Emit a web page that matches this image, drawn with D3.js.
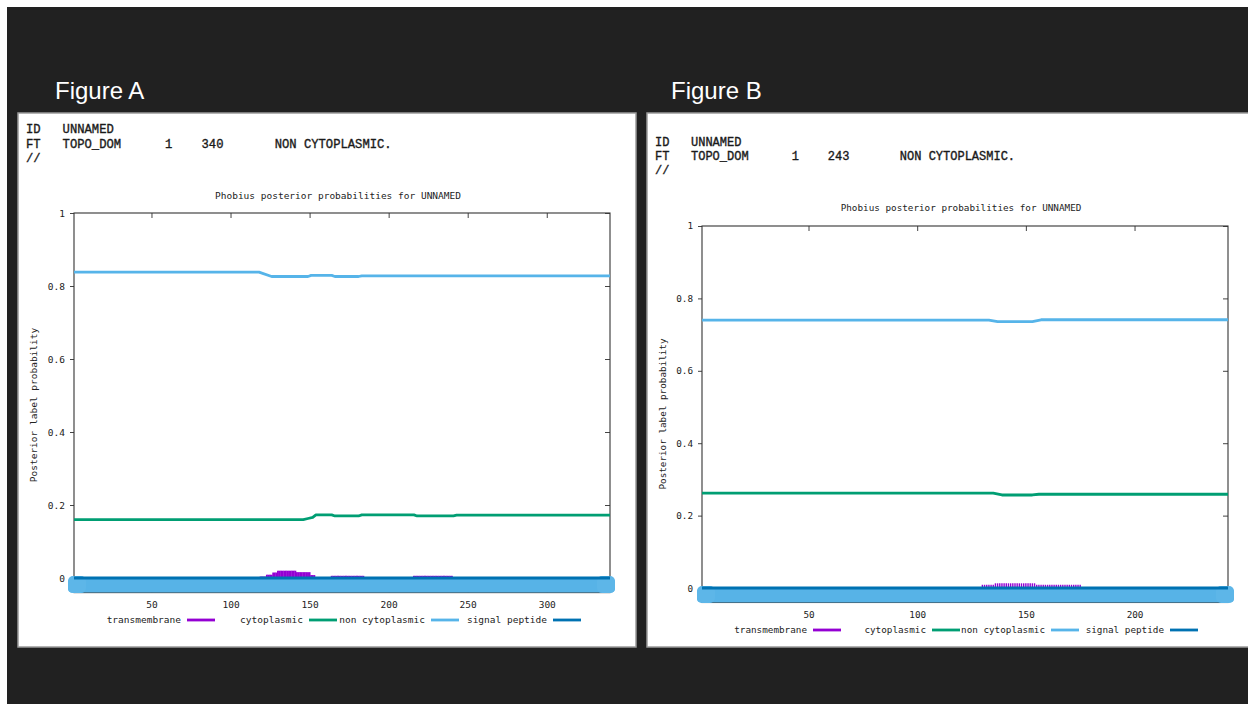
<!DOCTYPE html>
<html>
<head>
<meta charset="utf-8">
<script src="https://cdn.jsdelivr.net/npm/d3@7"></script>
<style>
  html, body { margin: 0; padding: 0; background: #ffffff; }
  svg { display: block; }
  .mono { font-family: "DejaVu Sans Mono", monospace; fill: #222; }
  .hdr { font-family: "Liberation Mono", "Courier New", monospace; fill: #1a1a1a; stroke: #1a1a1a; stroke-width: 0.35; white-space: pre; }
</style>
</head>
<body>
<svg id="chart" width="1248" height="704"></svg>
<script>
// ---------- data ----------
const figureNames = ["Figure A", "Figure B"];
const seqLengths = [340, 243];
const topoLabel = "NON CYTOPLASMIC.";
const plotTitle = "Phobius posterior probabilities for UNNAMED";
const yAxisTitle = "Posterior label probability";

const yTicks = [0, 0.2, 0.4, 0.6, 0.8, 1];
const yTickLabels = ["0", "0.2", "0.4", "0.6", "0.8", "1"];
const xTicksA = [50, 100, 150, 200, 250, 300];
const xTicksB = [50, 100, 150, 200];

const seriesNames = ["transmembrane", "cytoplasmic", "non cytoplasmic", "signal peptide"];
const seriesColors = ["#9400d3", "#009e73", "#56b4e9", "#0072b2"];

// Figure A (340 residues): breakpoints (residue) and posterior values
const nonCytoPosA = [1, 118, 126, 149, 151, 164, 166, 181, 183, 340];
const nonCytoValA = [0.838, 0.838, 0.826, 0.826, 0.829, 0.829, 0.826, 0.826, 0.828, 0.828];
const cytoPosA = [1, 146, 149, 152, 154, 164, 166, 181, 183, 216, 218, 241, 243, 340];
const cytoValA = [0.160, 0.160, 0.163, 0.166, 0.173, 0.173, 0.170, 0.170, 0.173, 0.173, 0.170, 0.170, 0.172, 0.172];
const signalPosA = [1, 340];
const signalValA = [0, 0];
// transmembrane runs: start residue, end residue, probability
const tmStartA = [119, 123, 127, 130, 142, 151, 164, 216];
const tmEndA   = [122, 126, 129, 141, 150, 153, 184, 240];
const tmValA   = [0.004, 0.009, 0.015, 0.020, 0.016, 0.008, 0.006, 0.006];

// Figure B (243 residues)
const nonCytoPosB = [1, 133, 137, 153, 157, 243];
const nonCytoValB = [0.740, 0.740, 0.736, 0.736, 0.741, 0.741];
const cytoPosB = [1, 135, 139, 153, 156, 243];
const cytoValB = [0.262, 0.262, 0.257, 0.257, 0.259, 0.259];
const signalPosB = [1, 243];
const signalValB = [0, 0];
const tmStartB = [130, 136, 155];
const tmEndB   = [135, 154, 175];
const tmValB   = [0.009, 0.013, 0.009];

// ---------- layout ----------
const svg = d3.select("#chart");
svg.append("rect").attr("x", 7).attr("y", 7).attr("width", 1241).attr("height", 697).attr("fill", "#212121");

const panels = [
  {
    name: figureNames[0], len: seqLengths[0], xTicks: xTicksA,
    nonCyto: d3.zip(nonCytoPosA, nonCytoValA), cyto: d3.zip(cytoPosA, cytoValA),
    signal: d3.zip(signalPosA, signalValA), tm: d3.zip(tmStartA, tmEndA, tmValA),
    box: { x: 18, y: 113, w: 618, h: 534 },
    plot: { l: 74, r: 610, t: 213, b: 592.6 },
    figX: 55, hdrX: 26, hdrY: [133, 148, 161.5], hdrSize: 12.2,
    titleX: 338, titleY: 199, fs: 9.5, yTitleX: 37, yTitleY: 405,
    xLabY: 607.5, legY: 620, legEnds: [181, 303, 425, 547], band: [68, 615], tmW: 1.9
  },
  {
    name: figureNames[1], len: seqLengths[1], xTicks: xTicksB,
    nonCyto: d3.zip(nonCytoPosB, nonCytoValB), cyto: d3.zip(cytoPosB, cytoValB),
    signal: d3.zip(signalPosB, signalValB), tm: d3.zip(tmStartB, tmEndB, tmValB),
    box: { x: 647, y: 113, w: 610, h: 534 },
    plot: { l: 702, r: 1228, t: 226, b: 602.5 },
    figX: 671, hdrX: 655, hdrY: [146, 160, 173.5], hdrSize: 12,
    titleX: 961, titleY: 211, fs: 9.3, yTitleX: 666, yTitleY: 414,
    xLabY: 617.5, legY: 630, legEnds: [807, 926, 1045, 1164], band: [697, 1234], tmW: 1.4
  }
];

panels.forEach(P => {
  const g = svg.append("g");

  g.append("text").text(P.name)
    .attr("x", P.figX).attr("y", 99)
    .attr("font-family", "Liberation Sans, Arial, sans-serif")
    .attr("font-size", 24).attr("fill", "#ffffff");

  g.append("rect").attr("x", P.box.x).attr("y", P.box.y)
    .attr("width", P.box.w).attr("height", P.box.h)
    .attr("fill", "#ffffff").attr("stroke", "#9a9a9a").attr("stroke-width", 1.5);

  // flat-file header
  const header = [
    "ID   UNNAMED",
    "FT   TOPO_DOM      1    " + String(P.len).padStart(3, " ") + "       " + topoLabel,
    "//"
  ];
  header.forEach((line, i) => {
    g.append("text").attr("class", "hdr").text(line)
      .attr("x", P.hdrX).attr("y", P.hdrY[i]).attr("font-size", P.hdrSize)
      .attr("xml:space", "preserve");
  });

  const x = d3.scaleLinear().domain([1, P.len]).range([P.plot.l, P.plot.r]);
  const y = d3.scaleLinear().domain([-0.04, 1]).range([P.plot.b, P.plot.t]);

  g.append("text").attr("class", "mono").text(plotTitle)
    .attr("x", P.titleX).attr("y", P.titleY).attr("text-anchor", "middle")
    .attr("font-size", P.fs);

  g.append("text").attr("class", "mono").text(yAxisTitle)
    .attr("transform", `translate(${P.yTitleX},${P.yTitleY}) rotate(-90)`)
    .attr("text-anchor", "middle").attr("font-size", P.fs);

  // axes with gnuplot-style inward ticks, mirrored
  const tickLen = 5;
  const axB = d3.axisBottom(x).tickValues(P.xTicks).tickSize(-tickLen).tickPadding(9).tickFormat(d3.format("d"));
  const axT = d3.axisTop(x).tickValues(P.xTicks).tickSize(-tickLen).tickFormat("");
  const axL = d3.axisLeft(y).tickValues(yTicks).tickSize(4).tickPadding(5).tickFormat((d, i) => yTickLabels[i]);
  const axR = d3.axisRight(y).tickValues(yTicks).tickSize(-tickLen).tickFormat("");

  const styleAxis = sel => {
    sel.select(".domain").remove();
    sel.selectAll("line").attr("stroke", "#444").attr("stroke-width", 1);
    sel.selectAll("text").attr("font-family", "DejaVu Sans Mono, monospace")
      .attr("font-size", P.fs).attr("fill", "#222");
  };
  g.append("g").attr("transform", `translate(0,${P.plot.b})`).call(axB).call(styleAxis);
  g.append("g").attr("transform", `translate(0,${P.plot.t})`).call(axT).call(styleAxis);
  g.append("g").attr("transform", `translate(${P.plot.l},0)`).call(axL).call(styleAxis);
  g.append("g").attr("transform", `translate(${P.plot.r},0)`).call(axR).call(styleAxis);

  g.append("rect").attr("x", P.plot.l).attr("y", P.plot.t)
    .attr("width", P.plot.r - P.plot.l).attr("height", P.plot.b - P.plot.t)
    .attr("fill", "none").attr("stroke", "#333").attr("stroke-width", 1.1);

  // highlighted baseline band
  const y0 = y(0);
  g.append("rect").attr("x", P.band[0]).attr("y", y0 + 0.5)
    .attr("width", P.band[1] - P.band[0]).attr("height", P.plot.b - y0 - 0.5)
    .attr("rx", 4).attr("fill", "#57b3e7");
  [P.band[0], P.band[1] - 18].forEach(bx => {
    g.append("rect").attr("x", bx).attr("y", y0 - 2)
      .attr("width", 18).attr("height", P.plot.b - y0 + 2.5)
      .attr("rx", 5).attr("fill", "#5db6e8");
  });

  // transmembrane impulses per residue
  const impulses = [];
  P.tm.forEach(([s, e, v]) => d3.range(s, e + 1).forEach(r => impulses.push([r, v])));
  g.append("g").selectAll("line").data(impulses).join("line")
    .attr("x1", d => x(d[0])).attr("x2", d => x(d[0]))
    .attr("y1", y(0)).attr("y2", d => y(d[1]))
    .attr("stroke", seriesColors[0]).attr("stroke-width", P.tmW);

  const line = d3.line().x(d => x(d[0])).y(d => y(d[1]));
  [[P.cyto, 1], [P.nonCyto, 2], [P.signal, 3]].forEach(([data, k]) => {
    g.append("path").datum(data).attr("d", line)
      .attr("fill", "none").attr("stroke", seriesColors[k])
      .attr("stroke-width", 2.8).attr("stroke-linejoin", "round");
  });

  // legend: right-aligned label followed by line sample
  seriesNames.forEach((name, i) => {
    const ex = P.legEnds[i];
    g.append("text").attr("class", "mono").text(name)
      .attr("x", ex).attr("y", P.legY + 3).attr("text-anchor", "end")
      .attr("font-size", P.fs);
    g.append("line").attr("x1", ex + 6).attr("x2", ex + 34)
      .attr("y1", P.legY).attr("y2", P.legY)
      .attr("stroke", seriesColors[i]).attr("stroke-width", 2.8);
  });
});

// thin light strips along the top and left edges of the canvas
svg.append("rect").attr("x", 0).attr("y", 0).attr("width", 1248).attr("height", 7).attr("fill", "#ffffff");
svg.append("rect").attr("x", 0).attr("y", 0).attr("width", 7).attr("height", 704).attr("fill", "#ffffff");
</script>
</body>
</html>
